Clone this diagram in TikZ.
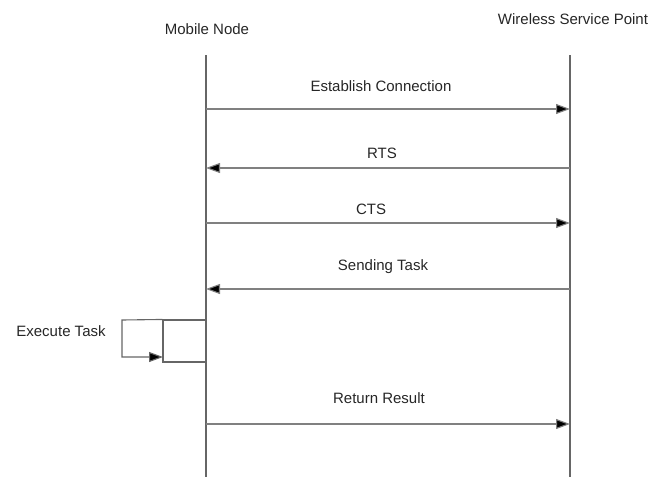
\documentclass[tikz,border=0pt]{standalone}
\usepackage{fontspec}
\setmainfont{Liberation Sans}
\usetikzlibrary{arrows.meta}
\begin{document}
\begin{tikzpicture}[x=1pt,y=-1pt,
  lbl/.style={font=\fontsize{15}{17}\selectfont, inner sep=0pt, text=black!85},
  life/.style={draw=black!60, line width=1.1pt},
  msg/.style={draw=black!50, line width=1.1pt, -{Triangle[length=14pt,width=10pt,fill=black]}},
  act/.style={draw=black!60, line width=1.1pt, fill=white}]
\useasboundingbox (0,0) rectangle (669,477);
\node[lbl] (mn) at (207,29) {Mobile Node};
\node[lbl] (wsp) at (573,19) {Wireless Service Point};
\coordinate (mt) at (206,55);
\coordinate (mb) at (206,477);
\coordinate (wt) at (570,55);
\coordinate (wb) at (570,477);
\draw[life] (mt) -- (mb);
\draw[life] (wt) -- (wb);
% messages
\coordinate (a1) at (206,109); \coordinate (b1) at (570,109);
\coordinate (a2) at (206,168); \coordinate (b2) at (570,168);
\coordinate (a3) at (206,223); \coordinate (b3) at (570,223);
\coordinate (a4) at (206,289); \coordinate (b4) at (570,289);
\coordinate (a5) at (206,424); \coordinate (b5) at (570,424);
\draw[msg] (a1) -- (b1);
\draw[msg] (b2) -- (a2);
\draw[msg] (a3) -- (b3);
\draw[msg] (b4) -- (a4);
\draw[msg] (a5) -- (b5);
\node[lbl] (l1) at (381,86) {Establish Connection};
\node[lbl] (l2) at (382,153) {RTS};
\node[lbl] (l3) at (371,209) {CTS};
\node[lbl] (l4) at (383,267) {Sending Task};
\node[lbl] (l5) at (379,398) {Return Result};
% activation
\node[act, minimum width=43pt, minimum height=42pt, inner sep=0pt] (box) at (184.5,341) {};
\coordinate (s1) at (122,320);
\coordinate (s2) at (122,357);
\coordinate (e1) at (box.north west);
\coordinate (e2) at (163,357);
\draw[msg, draw=black!60] (e1) -- (s1) -- (s2) -- (e2);
\node[lbl] (ex) at (61,331) {Execute Task};
\end{tikzpicture}
\end{document}
